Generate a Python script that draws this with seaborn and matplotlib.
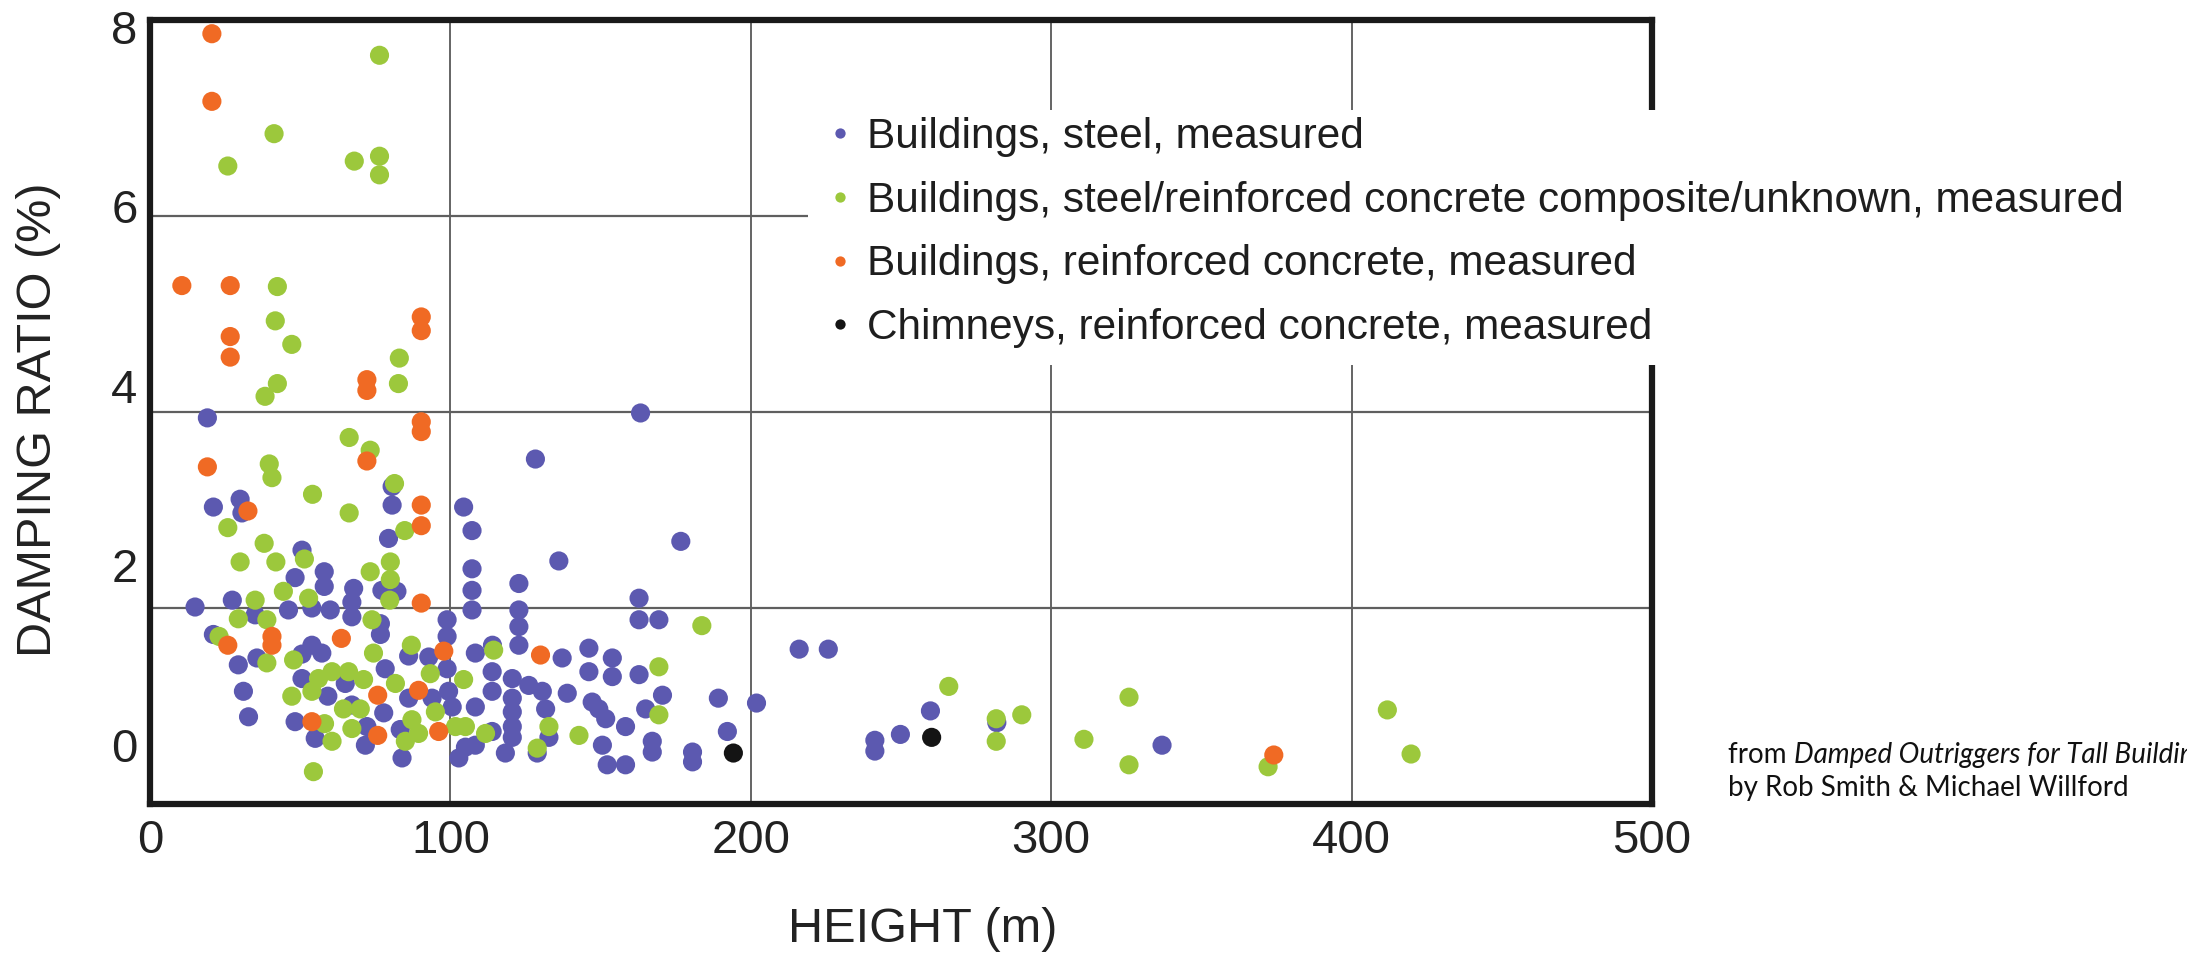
import numpy as np
import pandas as pd
import seaborn as sns
import matplotlib.pyplot as plt
from matplotlib.patches import Rectangle
from matplotlib.text import Annotation

# Measured damping ratios (%) against building height (m)
steel_height = [
    19.1, 163.3, 128.3, 80.6, 80.6, 21.1, 30.0, 30.6, 104.4, 107.2,
    79.4, 176.7, 50.6, 58.0, 48.3, 58.0, 136.1, 107.2, 122.8, 107.2,
    67.8, 77.2, 82.2, 15.0, 27.4, 46.1, 53.9, 60.0, 67.2, 67.2,
    107.2, 122.8, 162.8, 162.8, 169.4, 98.9, 35.0, 76.7, 21.1, 76.7,
    98.9, 122.8, 122.8, 86.1, 92.8, 53.9, 57.2, 50.6, 108.3, 114.0,
    137.2, 146.1, 153.9, 29.4, 35.6, 50.6, 65.0, 78.3, 98.9, 31.1,
    59.2, 99.4, 113.9, 113.9, 120.6, 126.1, 130.6, 138.9, 146.1, 153.9,
    162.8, 170.6, 147.2, 149.4, 151.7, 158.3, 165.0, 131.7, 120.6, 120.6,
    108.3, 100.6, 93.9, 86.1, 77.8, 67.2, 48.3, 32.8, 72.2, 83.3,
    113.9, 120.6, 132.8, 120.6, 128.9, 118.3, 105.0, 102.8, 108.3, 150.6,
    152.2, 158.3, 167.2, 167.2, 83.9, 71.7, 55.0, 189.2, 201.9, 192.2,
    180.6, 180.6, 216.1, 225.8, 259.8, 249.8, 241.3, 241.3, 281.9, 336.9,
]
steel_damping = [
    3.94, 3.99, 3.52, 3.24, 3.05, 3.03, 3.11, 2.97, 3.03, 2.79,
    2.71, 2.68, 2.59, 2.37, 2.31, 2.22, 2.48, 2.40, 2.25, 2.18,
    2.20, 2.18, 2.17, 2.01, 2.08, 1.98, 2.00, 1.98, 2.06, 1.91,
    1.98, 1.98, 2.10, 1.88, 1.88, 1.88, 1.93, 1.84, 1.73, 1.73,
    1.71, 1.81, 1.62, 1.51, 1.50, 1.62, 1.54, 1.53, 1.54, 1.62,
    1.49, 1.59, 1.49, 1.42, 1.49, 1.28, 1.23, 1.38, 1.38, 1.15,
    1.10, 1.15, 1.35, 1.15, 1.28, 1.21, 1.15, 1.13, 1.35, 1.30,
    1.32, 1.11, 1.04, 0.97, 0.87, 0.79, 0.97, 0.97, 1.08, 0.94,
    0.99, 0.99, 1.08, 1.08, 0.93, 1.01, 0.84, 0.89, 0.79, 0.76,
    0.74, 0.79, 0.68, 0.68, 0.52, 0.52, 0.58, 0.47, 0.60, 0.60,
    0.40, 0.40, 0.64, 0.53, 0.47, 0.60, 0.67, 1.08, 1.03, 0.74,
    0.53, 0.43, 1.58, 1.58, 0.95, 0.71, 0.65, 0.54, 0.83, 0.60,
]

composite_height = [
    76.4, 41.3, 25.9, 68.0, 76.4, 76.4, 42.4, 41.7, 47.2, 83.0,
    42.4, 38.3, 82.7, 66.3, 73.3, 39.7, 40.6, 54.1, 81.4, 66.3,
    25.9, 84.8, 38.0, 30.0, 41.9, 51.4, 73.3, 80.0, 80.0, 44.4,
    79.8, 52.8, 35.0, 29.4, 38.9, 73.9, 23.0, 87.0, 74.4, 114.4,
    169.4, 38.9, 47.8, 56.1, 60.6, 66.1, 71.1, 81.7, 93.3, 47.2,
    53.9, 104.4, 169.4, 95.0, 64.4, 70.0, 58.1, 67.2, 87.2, 89.4,
    101.7, 105.0, 111.7, 132.8, 142.8, 128.9, 60.6, 54.4, 85.0, 183.7,
    265.9, 281.7, 290.2, 281.7, 310.9, 325.9, 325.9, 372.2, 411.9, 419.8,
]
composite_damping = [
    7.64, 6.84, 6.51, 6.56, 6.61, 6.42, 5.28, 4.93, 4.69, 4.55,
    4.29, 4.16, 4.29, 3.74, 3.61, 3.47, 3.33, 3.16, 3.27, 2.97,
    2.82, 2.79, 2.66, 2.47, 2.47, 2.50, 2.37, 2.47, 2.29, 2.17,
    2.08, 2.10, 2.08, 1.89, 1.88, 1.88, 1.71, 1.62, 1.54, 1.57,
    1.40, 1.44, 1.47, 1.28, 1.35, 1.35, 1.27, 1.23, 1.33, 1.10,
    1.15, 1.27, 0.91, 0.94, 0.97, 0.97, 0.82, 0.77, 0.86, 0.72,
    0.79, 0.79, 0.72, 0.79, 0.70, 0.57, 0.64, 0.33, 0.64, 1.82,
    1.20, 0.87, 0.91, 0.64, 0.66, 1.09, 0.40, 0.38, 0.96, 0.51,
]

concrete_height = [
    20.6, 20.6, 10.6, 26.7, 26.7, 26.7, 90.3, 90.3, 72.2, 72.2,
    90.3, 90.3, 72.2, 19.1, 32.6, 90.3, 90.3, 90.3, 25.9, 40.6,
    40.6, 63.7, 97.8, 130.0, 89.4, 75.8, 53.9, 75.8, 96.1, 374.1,
]
concrete_damping = [
    7.86, 7.17, 5.29, 5.29, 4.77, 4.56, 4.97, 4.83, 4.33, 4.22,
    3.90, 3.80, 3.50, 3.44, 2.99, 3.05, 2.84, 2.05, 1.62, 1.71,
    1.62, 1.69, 1.56, 1.52, 1.16, 1.11, 0.84, 0.70, 0.74, 0.50,
]

chimney_height = [194.2, 260.2]
chimney_damping = [0.52, 0.68]

series_labels = [
    "Buildings, steel, measured",
    "Buildings, steel/reinforced concrete composite/unknown, measured",
    "Buildings, reinforced concrete, measured",
    "Chimneys, reinforced concrete, measured",
]
series_colors = ["#5c59b0", "#9cc83c", "#f06a24", "#141414"]

x_ticks = [0, 100, 200, 300, 400, 500]
y_grid = [2, 4, 6]
y_tick_labels = [0, 2, 4, 6, 8]

# The printed damping scale is set in a slightly tighter pitch than the grid
label_gain = 1.0919
label_offset = 0.6574

sns.set_theme(style="white")
plt.rcParams["font.family"] = ["Liberation Sans", "DejaVu Sans"]

frames = []
for lab, hx, dy in zip(
    series_labels,
    [steel_height, composite_height, concrete_height, chimney_height],
    [steel_damping, composite_damping, concrete_damping, chimney_damping],
):
    frames.append(pd.DataFrame({"height": hx, "damping": dy, "series": lab}))
df = pd.concat(frames, ignore_index=True)

fig = plt.figure(figsize=(21.87, 9.58), dpi=100)
ax = fig.add_axes([150 / 2187, 1 - 804 / 958, 1502 / 2187, 784 / 958])

sns.scatterplot(
    data=df, x="height", y="damping", hue="series", hue_order=series_labels,
    palette=dict(zip(series_labels, series_colors)), s=190, linewidth=0,
    alpha=1, ax=ax, legend=True,
)

ax.set_xlim(0, 500)
ax.set_ylim(0, 8)
ax.set_xticks(x_ticks)
ax.set_yticks(y_grid)
ax.tick_params(axis="x", length=0, pad=11, labelsize=34, labelcolor="#222222")
ax.tick_params(axis="y", length=0, labelleft=False)
ax.xaxis.grid(True, color="#3a3a3a", linewidth=1.1)
ax.yaxis.grid(True, color="#5f5f5f", linewidth=1.6)
ax.set_axisbelow(True)
for sp in ax.spines.values():
    sp.set_visible(True)
    sp.set_color("#1a1a1a")
    sp.set_linewidth(4.5)

sec = ax.secondary_yaxis(
    "left",
    functions=(lambda v: label_gain * v - label_offset,
               lambda p: (p + label_offset) / label_gain),
)
sec.set_yticks(y_tick_labels)
sec.tick_params(length=0, pad=9, labelsize=34, labelcolor="#222222")
for sp in sec.spines.values():
    sp.set_visible(False)

ax.set_xlabel("HEIGHT (m)", fontsize=35, color="#222222", va="center")
ax.xaxis.set_label_coords(0.5146, -0.1607)
ax.set_ylabel("DAMPING RATIO (%)", fontsize=35, color="#222222",
              va="center", ha="center")
ax.yaxis.set_label_coords(-0.0742, 0.4898)

leg = ax.get_legend()
handles = list(leg.legend_handles)
labels = [t.get_text() for t in leg.get_texts()]
leg.remove()
for h in handles:
    if hasattr(h, "set_markersize"):
        h.set_markersize(7.4)
    else:
        h.set_sizes([55])

fig.add_artist(Rectangle(
    (808 / 2187, 1 - 365 / 958), (2187 - 808) / 2187, 255 / 958,
    transform=fig.transFigure, facecolor="white", edgecolor="none", zorder=3,
))
key = fig.legend(
    handles, labels, loc="upper left", bbox_to_anchor=(823 / 2187, 1 - 117 / 958),
    frameon=False, fontsize=30.5, handlelength=0.8, handletextpad=0.24,
    labelspacing=0.56, borderpad=0, borderaxespad=0, labelcolor="#1e1e1e",
)
key.set_zorder(5)

# Source note; the book title runs past the right edge of the canvas
src = fig.text(1728 / 2187, 1 - 763 / 958, "from ", fontsize=20,
               family=["Lato", "DejaVu Sans"], va="baseline", color="#111111")
title = Annotation(
    "Damped Outriggers for Tall Buildings", xy=(1, 0), xycoords=src,
    va="bottom", ha="left", fontsize=20, family=["Lato", "DejaVu Sans"],
    style="italic", color="#111111",
)
fig.add_artist(title)
fig.text(1728 / 2187, 1 - 796 / 958, "by Rob Smith & Michael Willford",
         fontsize=20, family=["Lato", "DejaVu Sans"], va="baseline",
         color="#111111")

fig.savefig("out.png", dpi=100, facecolor="white")
